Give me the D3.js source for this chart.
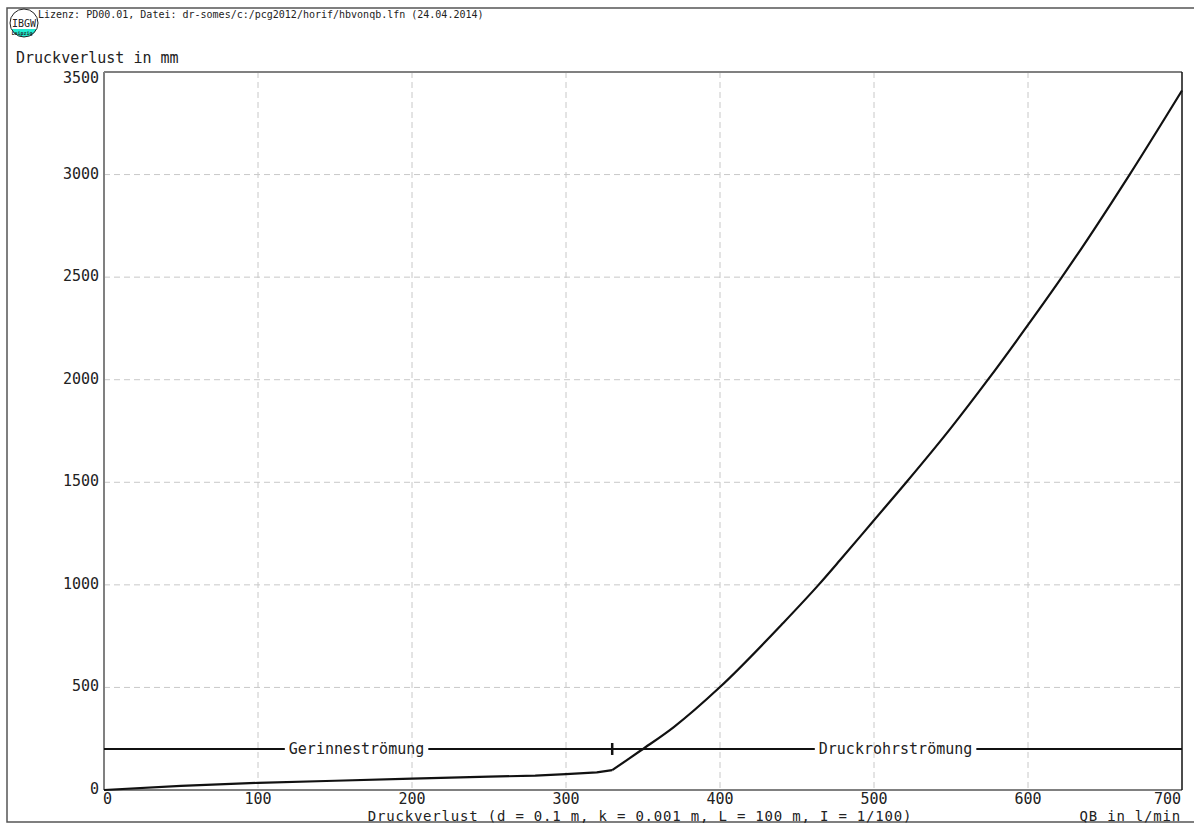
<!DOCTYPE html>
<html>
<head>
<meta charset="utf-8">
<script src="https://cdn.jsdelivr.net/npm/d3@7/dist/d3.min.js"></script>
<style>
  html, body { margin: 0; padding: 0; background: #fff; }
  svg { display: block; }
  text { font-family: "DejaVu Sans Mono", "Liberation Mono", monospace; fill: #222; }
</style>
</head>
<body>
<svg id="chart" width="1194" height="824"></svg>
<script>
// Head loss (mm) over discharge QB (l/min)
const flowQ = [0, 50, 100, 150, 200, 250, 280, 300, 320, 330, 340, 349, 370, 400, 441, 464, 478, 500, 521, 550, 574, 600, 622, 634, 654, 666, 700];
const headLoss = [0, 20, 35, 45, 55, 65, 70, 77, 86, 97, 148, 195, 307, 502, 814, 1000, 1121, 1315, 1500, 1765, 2000, 2267, 2500, 2632, 2860, 3000, 3410];

const xTicks = [0, 100, 200, 300, 400, 500, 600, 700];
const yTicks = [0, 500, 1000, 1500, 2000, 2500, 3000, 3500];

// Flow regimes: open-channel flow up to the transition, pressure-pipe flow above it
const regimeLevel = 200;
const transitionQ = 330;
const regimeLabels = ["Gerinneströmung", "Druckrohrströmung"];
const regimeLabelQ = [164, 514];

const headerText = "Lizenz: PD00.01, Datei: dr-somes/c:/pcg2012/horif/hbvonqb.lfn (24.04.2014)";
const yTitle = "Druckverlust in mm";
const xTitle = "Druckverlust (d = 0.1 m, k = 0.001 m, L = 100 m, I = 1/100)";
const xUnit = "QB in l/min";

const svg = d3.select("#chart");
const x = d3.scaleLinear().domain([0, 700]).range([104, 1182]);
const y = d3.scaleLinear().domain([0, 3500]).range([790, 72]);

// outer frame
svg.append("rect").attr("x", 7).attr("y", 8).attr("width", 1194).attr("height", 814)
  .attr("fill", "none").attr("stroke", "#555").attr("stroke-width", 1.5);

// logo
const logo = svg.append("g");
logo.append("clipPath").attr("id", "logoClip")
  .append("circle").attr("cx", 24).attr("cy", 23).attr("r", 14);
logo.append("circle").attr("cx", 24).attr("cy", 23).attr("r", 14).attr("fill", "#fff");
logo.append("rect").attr("x", 8).attr("y", 29).attr("width", 32).attr("height", 12)
  .attr("fill", "#22ecd2").attr("clip-path", "url(#logoClip)");
logo.append("circle").attr("cx", 24).attr("cy", 23).attr("r", 14)
  .attr("fill", "none").attr("stroke", "#222").attr("stroke-width", 1);
logo.append("text").attr("x", 24).attr("y", 27).attr("text-anchor", "middle")
  .style("font-size", "10px").text("IBGW");
logo.append("text").attr("x", 22).attr("y", 35).attr("text-anchor", "middle")
  .style("font-size", "5px").style("font-weight", "bold").text("Leipzig");

svg.append("text").attr("x", 38).attr("y", 18).style("font-size", "10px").text(headerText);
svg.append("text").attr("x", 16).attr("y", 63).style("font-size", "15px").text(yTitle);

// grid
const gridStyle = g => g.attr("stroke", "#c8c8c8").attr("stroke-width", 1).attr("stroke-dasharray", "6,4");
svg.append("g").selectAll("line").data(xTicks.filter(d => d > 0 && d < 700)).join("line")
  .attr("x1", d => x(d)).attr("x2", d => x(d)).attr("y1", y(3500)).attr("y2", y(0))
  .call(gridStyle);
svg.append("g").selectAll("line").data(yTicks.filter(d => d > 0 && d < 3500)).join("line")
  .attr("x1", x(0)).attr("x2", x(700)).attr("y1", d => y(d)).attr("y2", d => y(d))
  .call(gridStyle);

// plot frame
svg.append("line").attr("x1", x(0)).attr("x2", x(700)).attr("y1", y(3500)).attr("y2", y(3500))
  .attr("stroke", "#808080").attr("stroke-width", 2);
svg.append("line").attr("x1", x(0)).attr("x2", x(0)).attr("y1", y(3500)).attr("y2", y(0))
  .attr("stroke", "#808080").attr("stroke-width", 2);
svg.append("line").attr("x1", x(0)).attr("x2", x(700)).attr("y1", y(0)).attr("y2", y(0))
  .attr("stroke", "#808080").attr("stroke-width", 2);
svg.append("line").attr("x1", x(700)).attr("x2", x(700)).attr("y1", y(3500)).attr("y2", y(0))
  .attr("stroke", "#111").attr("stroke-width", 1.5);

// tick labels (top label kept inside the plot height)
svg.append("g").selectAll("text").data(yTicks).join("text")
  .attr("x", x(0) - 5)
  .attr("y", d => d === 3500 ? y(d) + 11 : y(d) + 4)
  .attr("text-anchor", "end")
  .style("font-size", "15px").text(d => d);
svg.append("g").selectAll("text").data(xTicks).join("text")
  .attr("x", d => d === 0 ? x(d) - 1 : d === 700 ? x(d) - 1 : x(d))
  .attr("y", 804)
  .attr("text-anchor", d => d === 0 ? "start" : d === 700 ? "end" : "middle")
  .style("font-size", "15px").text(d => d);

svg.append("text").attr("x", 640).attr("y", 821).attr("text-anchor", "middle")
  .style("font-size", "14px").style("letter-spacing", "0.8px").text(xTitle);
svg.append("text").attr("x", x(700) - 1).attr("y", 821).attr("text-anchor", "end")
  .style("font-size", "14px").style("letter-spacing", "0.8px").text(xUnit);

// regime line with labels interrupting it
const regime = svg.append("g");
const labelNodes = regime.selectAll("text").data(regimeLabels).join("text")
  .attr("x", (d, i) => x(regimeLabelQ[i]))
  .attr("y", y(regimeLevel) + 5)
  .attr("text-anchor", "middle")
  .style("font-size", "15px").text(d => d);
const boxes = labelNodes.nodes().map(n => n.getBBox());
const segs = [
  [x(0), boxes[0].x - 4],
  [boxes[0].x + boxes[0].width + 4, boxes[1].x - 4],
  [boxes[1].x + boxes[1].width + 4, x(700)]
];
regime.selectAll("line.seg").data(segs).join("line").attr("class", "seg")
  .attr("x1", d => d[0]).attr("x2", d => d[1])
  .attr("y1", y(regimeLevel)).attr("y2", y(regimeLevel))
  .attr("stroke", "#111").attr("stroke-width", 2);
regime.append("line")
  .attr("x1", x(transitionQ)).attr("x2", x(transitionQ))
  .attr("y1", y(regimeLevel) - 6).attr("y2", y(regimeLevel) + 6)
  .attr("stroke", "#111").attr("stroke-width", 2.5);

// head loss curve: straight segments in open-channel flow, smooth pipe-flow branch
const pts = flowQ.map((q, i) => [q, headLoss[i]]);
const split = flowQ.indexOf(transitionQ);
const lowBranch = pts.slice(0, split + 1);
const highBranch = pts.slice(split);
const linLine = d3.line().x(d => x(d[0])).y(d => y(d[1]));
const smoothLine = d3.line().x(d => x(d[0])).y(d => y(d[1])).curve(d3.curveMonotoneX);
svg.append("path").datum(lowBranch).attr("d", linLine)
  .attr("fill", "none").attr("stroke", "#111").attr("stroke-width", 2.2)
  .attr("stroke-linejoin", "round");
svg.append("path").datum(highBranch).attr("d", smoothLine)
  .attr("fill", "none").attr("stroke", "#111").attr("stroke-width", 2.2)
  .attr("stroke-linejoin", "round");
</script>
</body>
</html>
